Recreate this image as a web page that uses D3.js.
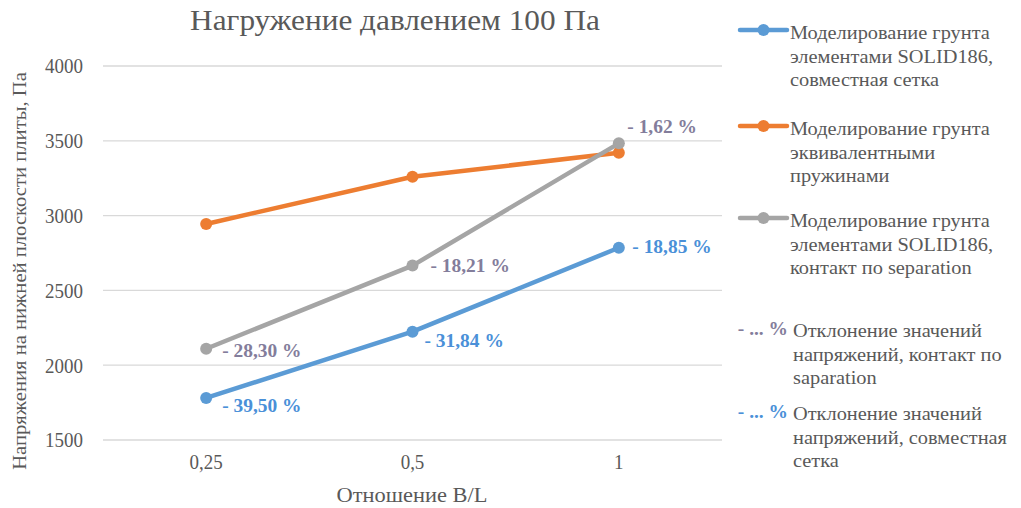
<!DOCTYPE html>
<html>
<head>
<meta charset="utf-8">
<script src="https://cdn.jsdelivr.net/npm/d3@7"></script>
</head>
<body style="margin:0">
<svg id="chart" width="1021" height="508"></svg>
<script>
// Categories (B/L ratio) and stress values, Pa
const categories = ["0,25", "0,5", "1"];
const solidJoint = [1781, 2224, 2785];      // SOLID186, shared mesh
const springs = [2944, 3260, 3420];         // equivalent springs
const solidNoSep = [2110, 2666, 3483];      // SOLID186, no separation contact
const yTicks = [1500, 2000, 2500, 3000, 3500, 4000];
// Deviation labels
const devNoSep = ["- 28,30 %", "- 18,21 %", "- 1,62 %"];
const devJoint = ["- 39,50 %", "- 31,84 %", "- 18,85 %"];

const series = [
  { name: ["Моделирование грунта", "элементами SOLID186,", "совместная сетка"], values: solidJoint, color: "#5b9bd5" },
  { name: ["Моделирование грунта", "эквивалентными", "пружинами"], values: springs, color: "#ed7d31" },
  { name: ["Моделирование грунта", "элементами SOLID186,", "контакт по separation"], values: solidNoSep, color: "#a5a5a5" }
];

const svg = d3.select("#chart");
const FONT = "\"Liberation Serif\"";
const textColor = "#595959";
const plot = { left: 103, right: 722, top: 66, bottom: 440 };

const x = d3.scaleBand().domain(categories).range([plot.left, plot.right]);
const y = d3.scaleLinear().domain([1500, 4000]).range([plot.bottom, plot.top]);
const cx = c => x(c) + x.bandwidth() / 2;

// Serif text element
function addText(parent, str, size, opts = {}) {
  const t = parent.append("text")
    .style("font-family", FONT)
    .style("font-size", size + "px")
    .attr("fill", opts.color || textColor)
    .attr("text-anchor", opts.anchor || "start")
    .text(str);
  if (opts.bold) t.style("font-weight", "bold");
  if (opts.x != null) t.attr("x", opts.x);
  if (opts.y != null) t.attr("y", opts.y);
  if (opts.transform) t.attr("transform", opts.transform);
  return t;
}
// Horizontal glyph scaling around the text anchor: factor k, or an exact width
function fit(t, k, width) {
  const w = t.node().getComputedTextLength();
  const s = width != null ? width / w : k;
  const tx = +t.attr("x") || 0, ty = +t.attr("y") || 0;
  const base = t.attr("transform") || "";
  t.attr("x", 0).attr("y", 0)
    .attr("transform", `${base} translate(${tx},${ty}) scale(${s.toFixed(4)},1)`);
}

// Title
fit(addText(svg, "Нагружение давлением 100 Па", 29, { x: 395, y: 30, anchor: "middle" }), null, 410);

// Horizontal gridlines
svg.append("g")
  .selectAll("line").data(yTicks).join("line")
  .attr("x1", plot.left).attr("x2", plot.right)
  .attr("y1", d => y(d)).attr("y2", d => y(d))
  .attr("stroke", "#d9d9d9").attr("stroke-width", 1.3);

// Y axis labels
const yAxis = svg.append("g")
  .attr("transform", `translate(${plot.left - 20},0)`)
  .call(d3.axisLeft(y).tickValues(yTicks).tickFormat(d3.format("d")).tickSize(0).tickPadding(0));
yAxis.select(".domain").remove();
yAxis.attr("font-family", null).attr("font-size", null);
yAxis.selectAll("text")
  .style("font-family", FONT).style("font-size", "20px").attr("fill", textColor)
  .attr("dy", "0.34em")
  .each(function () { fit(d3.select(this), 0.95); });

// X axis labels
const xAxis = svg.append("g")
  .attr("transform", `translate(0,${plot.bottom + 15})`)
  .call(d3.axisBottom(x).tickSize(0).tickPadding(0));
xAxis.select(".domain").remove();
xAxis.attr("font-family", null).attr("font-size", null);
xAxis.selectAll("text")
  .style("font-family", FONT).style("font-size", "20px").attr("fill", textColor)
  .attr("dy", "0.71em")
  .each(function () { fit(d3.select(this), 0.95); });

// Axis titles
fit(addText(svg, "Отношение B/L", 21, { x: 412, y: 502, anchor: "middle" }), null, 151);
fit(addText(svg, "Напряжения на нижней плоскости плиты, Па", 19,
  { anchor: "middle", transform: "translate(26,271) rotate(-90)" }), null, 398);

// Lines and markers
const line = d3.line().x((d, i) => cx(categories[i])).y(d => y(d));
series.forEach(s => {
  const g = svg.append("g");
  g.append("path")
    .datum(s.values)
    .attr("d", line)
    .attr("fill", "none")
    .attr("stroke", s.color)
    .attr("stroke-width", 4.5)
    .attr("stroke-linejoin", "round");
  g.selectAll("circle").data(s.values).join("circle")
    .attr("cx", (d, i) => cx(categories[i]))
    .attr("cy", d => y(d))
    .attr("r", 6)
    .attr("fill", s.color);
});

// Deviation labels
const labelSize = 18;
const labelStretch = 1.08;
const noSepColor = "#837d9b";
const jointColor = "#4a90d8";
const noSepOffsets = [[16, 8], [18, 6], [8.5, -10]];
const jointOffsets = [[16, 14], [12, 15], [13.5, 5.5]];

function drawLabels(texts, values, offsets, color) {
  const g = svg.append("g");
  texts.forEach((str, i) => {
    fit(addText(g, str, labelSize, {
      bold: true, color,
      x: cx(categories[i]) + offsets[i][0],
      y: y(values[i]) + offsets[i][1]
    }), labelStretch);
  });
}
drawLabels(devNoSep, solidNoSep, noSepOffsets, noSepColor);
drawLabels(devJoint, solidJoint, jointOffsets, jointColor);

// Legend
const legendSize = 19;
const lineH = 23.5;
const legend = svg.append("g");
const legendTops = [30, 126, 218];
// common horizontal factor for legend text, from the first line's width
const probe = addText(legend, series[0].name[0], legendSize, { x: 0, y: -50 });
const legendK = 200 / probe.node().getComputedTextLength();
probe.remove();

series.forEach((s, i) => {
  const ly = legendTops[i];
  legend.append("line")
    .attr("x1", 740).attr("x2", 787)
    .attr("y1", ly).attr("y2", ly)
    .attr("stroke", s.color).attr("stroke-width", 4.5).attr("stroke-linecap", "round");
  legend.append("circle")
    .attr("cx", 763.5).attr("cy", ly).attr("r", 6).attr("fill", s.color);
  s.name.forEach((ln, k) => {
    fit(addText(legend, ln, legendSize, { x: 790, y: ly + 9 + k * lineH }), legendK);
  });
});

const devLegend = [
  { key: "- ... %", color: noSepColor, lines: ["Отклонение значений", "напряжений, контакт по", "saparation"], top: 328 },
  { key: "- ... %", color: jointColor, lines: ["Отклонение значений", "напряжений, совместная", "сетка"], top: 411 }
];
devLegend.forEach(d => {
  fit(addText(legend, d.key, labelSize, { bold: true, color: d.color, x: 788, y: d.top + 7, anchor: "end" }), labelStretch);
  d.lines.forEach((ln, k) => {
    fit(addText(legend, ln, legendSize, { x: 793, y: d.top + 9 + k * lineH }), legendK);
  });
});
</script>
</body>
</html>
